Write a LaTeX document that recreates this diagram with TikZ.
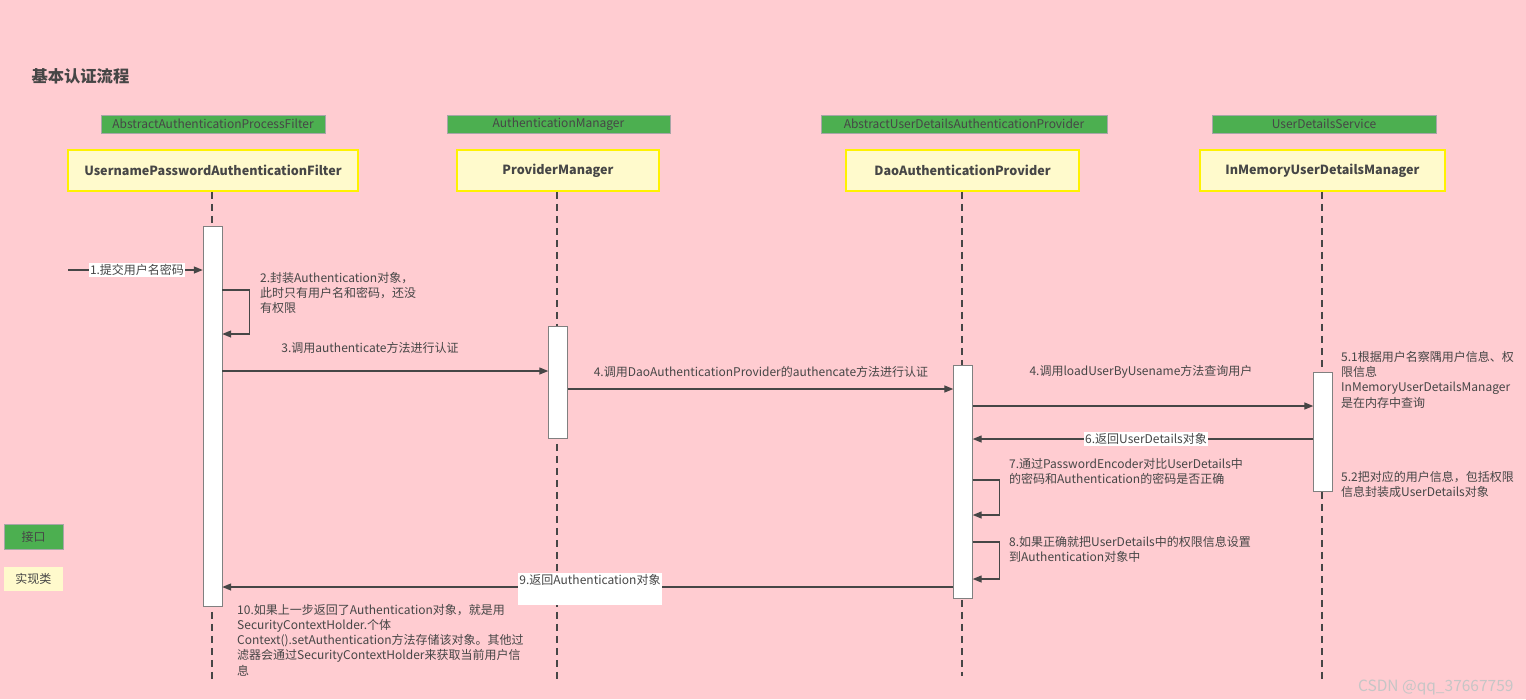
\documentclass[tikz,border=0pt]{standalone}
\usepackage{fontspec}
\setmainfont{Noto Sans CJK SC}
\usetikzlibrary{arrows.meta}
\definecolor{bgpink}{RGB}{255,204,209}
\definecolor{ifgreen}{RGB}{76,175,80}
\definecolor{impyellow}{RGB}{255,250,204}
\definecolor{edgeyellow}{RGB}{255,242,0}
\definecolor{txtgray}{RGB}{70,70,70}
\tikzset{
  iface/.style={draw=gray!70, fill=ifgreen, text=txtgray, font=\fontsize{12}{14}\selectfont, minimum height=18, inner sep=0},
  impl/.style={draw=edgeyellow, line width=1.5pt, fill=impyellow, text=txtgray, font=\bfseries\fontsize{12.6}{15}\selectfont, minimum height=41},
  life/.style={draw=txtgray, dash pattern=on 7pt off 5pt, line width=1.2pt},
  bar/.style={draw=gray, fill=white, minimum width=19, inner sep=0},
  msg/.style={draw=txtgray, line width=1.3pt, -{Triangle[length=9pt,width=7pt]}},
  lbl/.style={text=txtgray, font=\fontsize{12}{15.2}\selectfont, inner sep=1pt, align=left},
  tag/.style={lbl, fill=white},
}
\begin{document}
\begin{tikzpicture}[x=1pt, y=-1pt]
  \fill[bgpink] (0,0) rectangle (1526,699);
  \useasboundingbox (0,0) rectangle (1526,699);

  % title
  \node[text=txtgray, font=\bfseries\fontsize{16.3}{18}\selectfont, anchor=west] (title) at (28,76) {基本认证流程};

  % interfaces
  \node[iface, minimum width=224] (if1) at (213,124) {AbstractAuthenticationProcessFilter};
  \node[iface, minimum width=223] (if2) at (558.5,124) {AuthenticationManager};
  \node[iface, minimum width=286] (if3) at (964,124) {AbstractUserDetailsAuthenticationProvider};
  \node[iface, minimum width=224] (if4) at (1324,124) {UserDetailsService};

  % implementations
  \node[impl, minimum width=290] (filter) at (213,170.5) {UsernamePasswordAuthenticationFilter};
  \node[impl, minimum width=202] (pm) at (558,170.5) {ProviderManager};
  \node[impl, minimum width=233] (dao) at (962.5,170.5) {DaoAuthenticationProvider};
  \node[impl, minimum width=245] (mem) at (1322.5,170.5) {InMemoryUserDetailsManager};

  % lifelines
  \coordinate (e1) at (212,680);
  \coordinate (e2) at (557,680);
  \coordinate (e3) at (962,676);
  \coordinate (e4) at (1322,680);
  \draw[life] (filter.south -| e1) -- (e1);
  \draw[life] (pm.south -| e2) -- (e2);
  \draw[life] (dao.south -| e3) -- (e3);
  \draw[life] (mem.south -| e4) -- (e4);

  % activation bars
  \node[bar, minimum height=380] (b1) at (212.5,416) {};
  \node[bar, minimum height=112] (b2) at (558,382) {};
  \node[bar, minimum height=233] (b3) at (963,481.5) {};
  \node[bar, minimum height=119] (b4) at (1323,431.5) {};

  % message levels
  \coordinate (s1) at (68,270);
  \coordinate (m2a) at (0,290);
  \coordinate (m2b) at (0,334);
  \coordinate (m3) at (0,371);
  \coordinate (m4) at (0,389);
  \coordinate (m5) at (0,406);
  \coordinate (m6) at (0,439);
  \coordinate (m7a) at (0,480);
  \coordinate (m7b) at (0,515);
  \coordinate (m8a) at (0,542);
  \coordinate (m8b) at (0,579);
  \coordinate (m9) at (0,587);

  % messages
  \draw[msg] (s1) -- (b1.west |- s1);
  \draw[msg] (b1.east |- m2a) -- ++(27,0) |- (b1.east |- m2b);
  \draw[msg] (b1.east |- m3) -- (b2.west |- m3);
  \draw[msg] (b2.east |- m4) -- (b3.west |- m4);
  \draw[msg] (b3.east |- m5) -- (b4.west |- m5);
  \draw[msg] (b4.west |- m6) -- (b3.east |- m6);
  \draw[msg] (b3.east |- m7a) -- ++(27,0) |- (b3.east |- m7b);
  \draw[msg] (b3.east |- m8a) -- ++(27,0) |- (b3.east |- m8b);
  \draw[msg] (b3.west |- m9) -- (b1.east |- m9);

  % labels
  \node[tag] (t1) at (137,270) {1.提交用户名密码};
  \node[lbl, anchor=north west] (t2) at (259,271) {2.封装Authentication对象，\\此时只有用户名和密码，还没\\有权限};
  \node[lbl] (t3) at (370,348) {3.调用authenticate方法进行认证};
  \node[lbl] (t4) at (761,372) {4.调用DaoAuthenticationProvider的authencate方法进行认证};
  \node[lbl] (t5) at (1141,372) {4.调用loadUserByUsename方法查询用户};
  \node[lbl, anchor=north west] (t51) at (1340,350) {5.1根据用户名察隅用户信息、权\\限信息\\InMemoryUserDetailsManager\\是在内存中查询};
  \node[tag] (t6) at (1146,439) {6.返回UserDetails对象};
  \node[lbl, anchor=north west] (t52) at (1340,470) {5.2把对应的用户信息，包括权限\\信息封装成UserDetails对象};
  \node[lbl, anchor=north west] (t7) at (1008,457) {7.通过PasswordEncoder对比UserDetails中\\的密码和Authentication的密码是否正确};
  \node[lbl, anchor=north west] (t8) at (1008,535) {8.如果正确就把UserDetails中的权限信息设置\\到Authentication对象中};
  \node[tag, anchor=north, text height=10, text depth=20, minimum width=144] (t9) at (590,573) {9.返回Authentication对象};
  \node[lbl, anchor=north west] (t10) at (236,603) {10.如果上一步返回了Authentication对象，就是用\\SecurityContextHolder.个体\\Context().setAuthentication方法存储该对象。其他过\\滤器会通过SecurityContextHolder来获取当前用户信\\息};

  % legend
  \node[iface, minimum width=59, minimum height=25] (lgif) at (33.5,536.5) {接口};
  \node[iface, draw=none, fill=impyellow, minimum width=59, minimum height=24] (lgimp) at (33.5,579) {实现类};

  % watermark
  \node[text=gray!45, font=\fontsize{15.5}{17}\selectfont, anchor=east] (mark) at (1517,687) {CSDN @qq\_37667759};
\end{tikzpicture}
\end{document}
